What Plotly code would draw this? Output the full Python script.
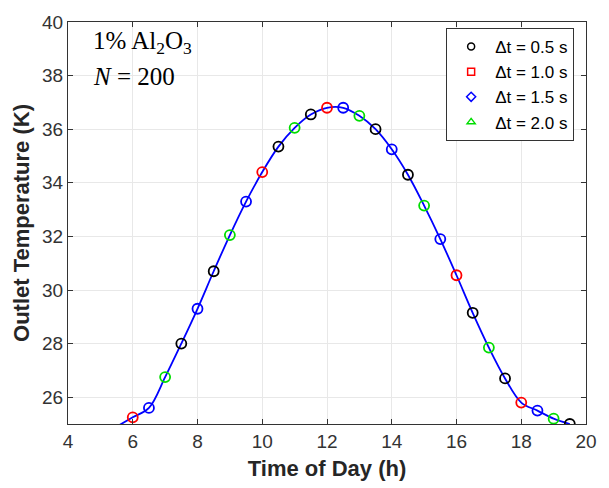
import plotly.graph_objects as go

# Data
t_line = [5.5, 6, 6.5, 7, 7.5, 8, 8.5, 9, 9.5, 10, 10.5, 11, 11.5, 12, 12.5, 13, 13.5,
          14, 14.5, 15, 15.5, 16, 16.5, 17, 17.5, 18, 18.5, 19, 19.5]
T_line = [24.9, 25.25, 25.6, 26.75, 28.0, 29.3, 30.7, 32.05, 33.3, 34.4, 35.35, 36.05, 36.55,
          36.8, 36.8, 36.5, 36.0, 35.25, 34.3, 33.15, 31.9, 30.55, 29.15, 27.85, 26.7,
          25.8, 25.5, 25.2, 25.0]

t_05 = [7.5, 8.5, 10.5, 11.5, 13.5, 14.5, 16.5, 17.5, 19.5]
T_05 = [28.0, 30.7, 35.35, 36.55, 36.0, 34.3, 29.15, 26.7, 25.0]
t_10 = [6, 10, 12, 16, 18]
T_10 = [25.25, 34.4, 36.8, 30.55, 25.8]
t_15 = [6.5, 8, 9.5, 12.5, 14, 15.5, 18.5]
T_15 = [25.6, 29.3, 33.3, 36.8, 35.25, 31.9, 25.5]
t_20 = [7, 9, 11, 13, 15, 17, 19]
T_20 = [26.75, 32.05, 36.05, 36.5, 33.15, 27.85, 25.2]

series_names = ["Δt = 0.5 s", "Δt = 1.0 s", "Δt = 1.5 s", "Δt = 2.0 s"]
series_colors = ["#000000", "#ff0000", "#0000ff", "#00dd00"]
legend_symbols = ["circle-open", "square-open", "diamond-open", "triangle-up-open"]
series_x = [t_05, t_10, t_15, t_20]
series_y = [T_05, T_10, T_15, T_20]

x_ticks = [4, 6, 8, 10, 12, 14, 16, 18, 20]
y_ticks = [26, 28, 30, 32, 34, 36, 38, 40]

fig = go.Figure()
fig.add_trace(go.Scatter(x=t_line, y=T_line, mode="lines",
                         line=dict(color="#0000ff", width=1.8, shape="spline"),
                         showlegend=False, hoverinfo="skip"))
for xs, ys, c in zip(series_x, series_y, series_colors):
    fig.add_trace(go.Scatter(x=xs, y=ys, mode="markers", showlegend=False,
                             marker=dict(symbol="circle-open", size=10, color=c,
                                         line=dict(width=1.8))))
# legend entries (symbols as in the reference legend)
for name, c, s in zip(series_names, series_colors, legend_symbols):
    fig.add_trace(go.Scatter(x=[None], y=[None], mode="markers", name=name,
                             marker=dict(symbol=s, size=7, color=c, line=dict(width=1.5))))

tick_font = dict(family="Liberation Sans, Arial", size=19, color="#333333")
title_font = dict(family="Liberation Sans, Arial", size=22, color="#262626")
axis_common = dict(showline=True, linecolor="#333333", linewidth=1, mirror="ticks",
                   showgrid=True, gridcolor="#e8e8e8", gridwidth=1, zeroline=False,
                   ticks="inside", ticklen=5, tickcolor="#333333", tickfont=tick_font)

fig.update_layout(
    width=609, height=488,
    margin=dict(l=68, r=16, t=18, b=63),
    paper_bgcolor="white", plot_bgcolor="white",
    xaxis=dict(range=[4, 20], tickvals=x_ticks,
               title=dict(text="<b>Time of Day (h)</b>", standoff=9, font=title_font),
               **axis_common),
    yaxis=dict(range=[25, 40], tickvals=y_ticks,
               title=dict(text="<b>Outlet Temperature (K)</b>", standoff=6, font=title_font),
               **axis_common),
    legend=dict(x=0.73, y=0.985, xanchor="left", yanchor="top",
                bgcolor="white", bordercolor="#333333", borderwidth=1,
                font=dict(family="Liberation Sans, Arial", size=17, color="black"),
                itemwidth=38, tracegroupgap=0),
    annotations=[
        dict(x=0.045, y=0.948, xref="paper", yref="paper", xanchor="left", yanchor="middle",
             text="1% Al<sub>2</sub>O<sub>3</sub>", showarrow=False,
             font=dict(family="Liberation Serif, Times New Roman", size=25, color="black")),
        dict(x=0.045, y=0.865, xref="paper", yref="paper", xanchor="left", yanchor="middle",
             text="<i>N</i> = 200", showarrow=False,
             font=dict(family="Liberation Serif, Times New Roman", size=25, color="black")),
    ],
)

fig.write_html("out.html")
